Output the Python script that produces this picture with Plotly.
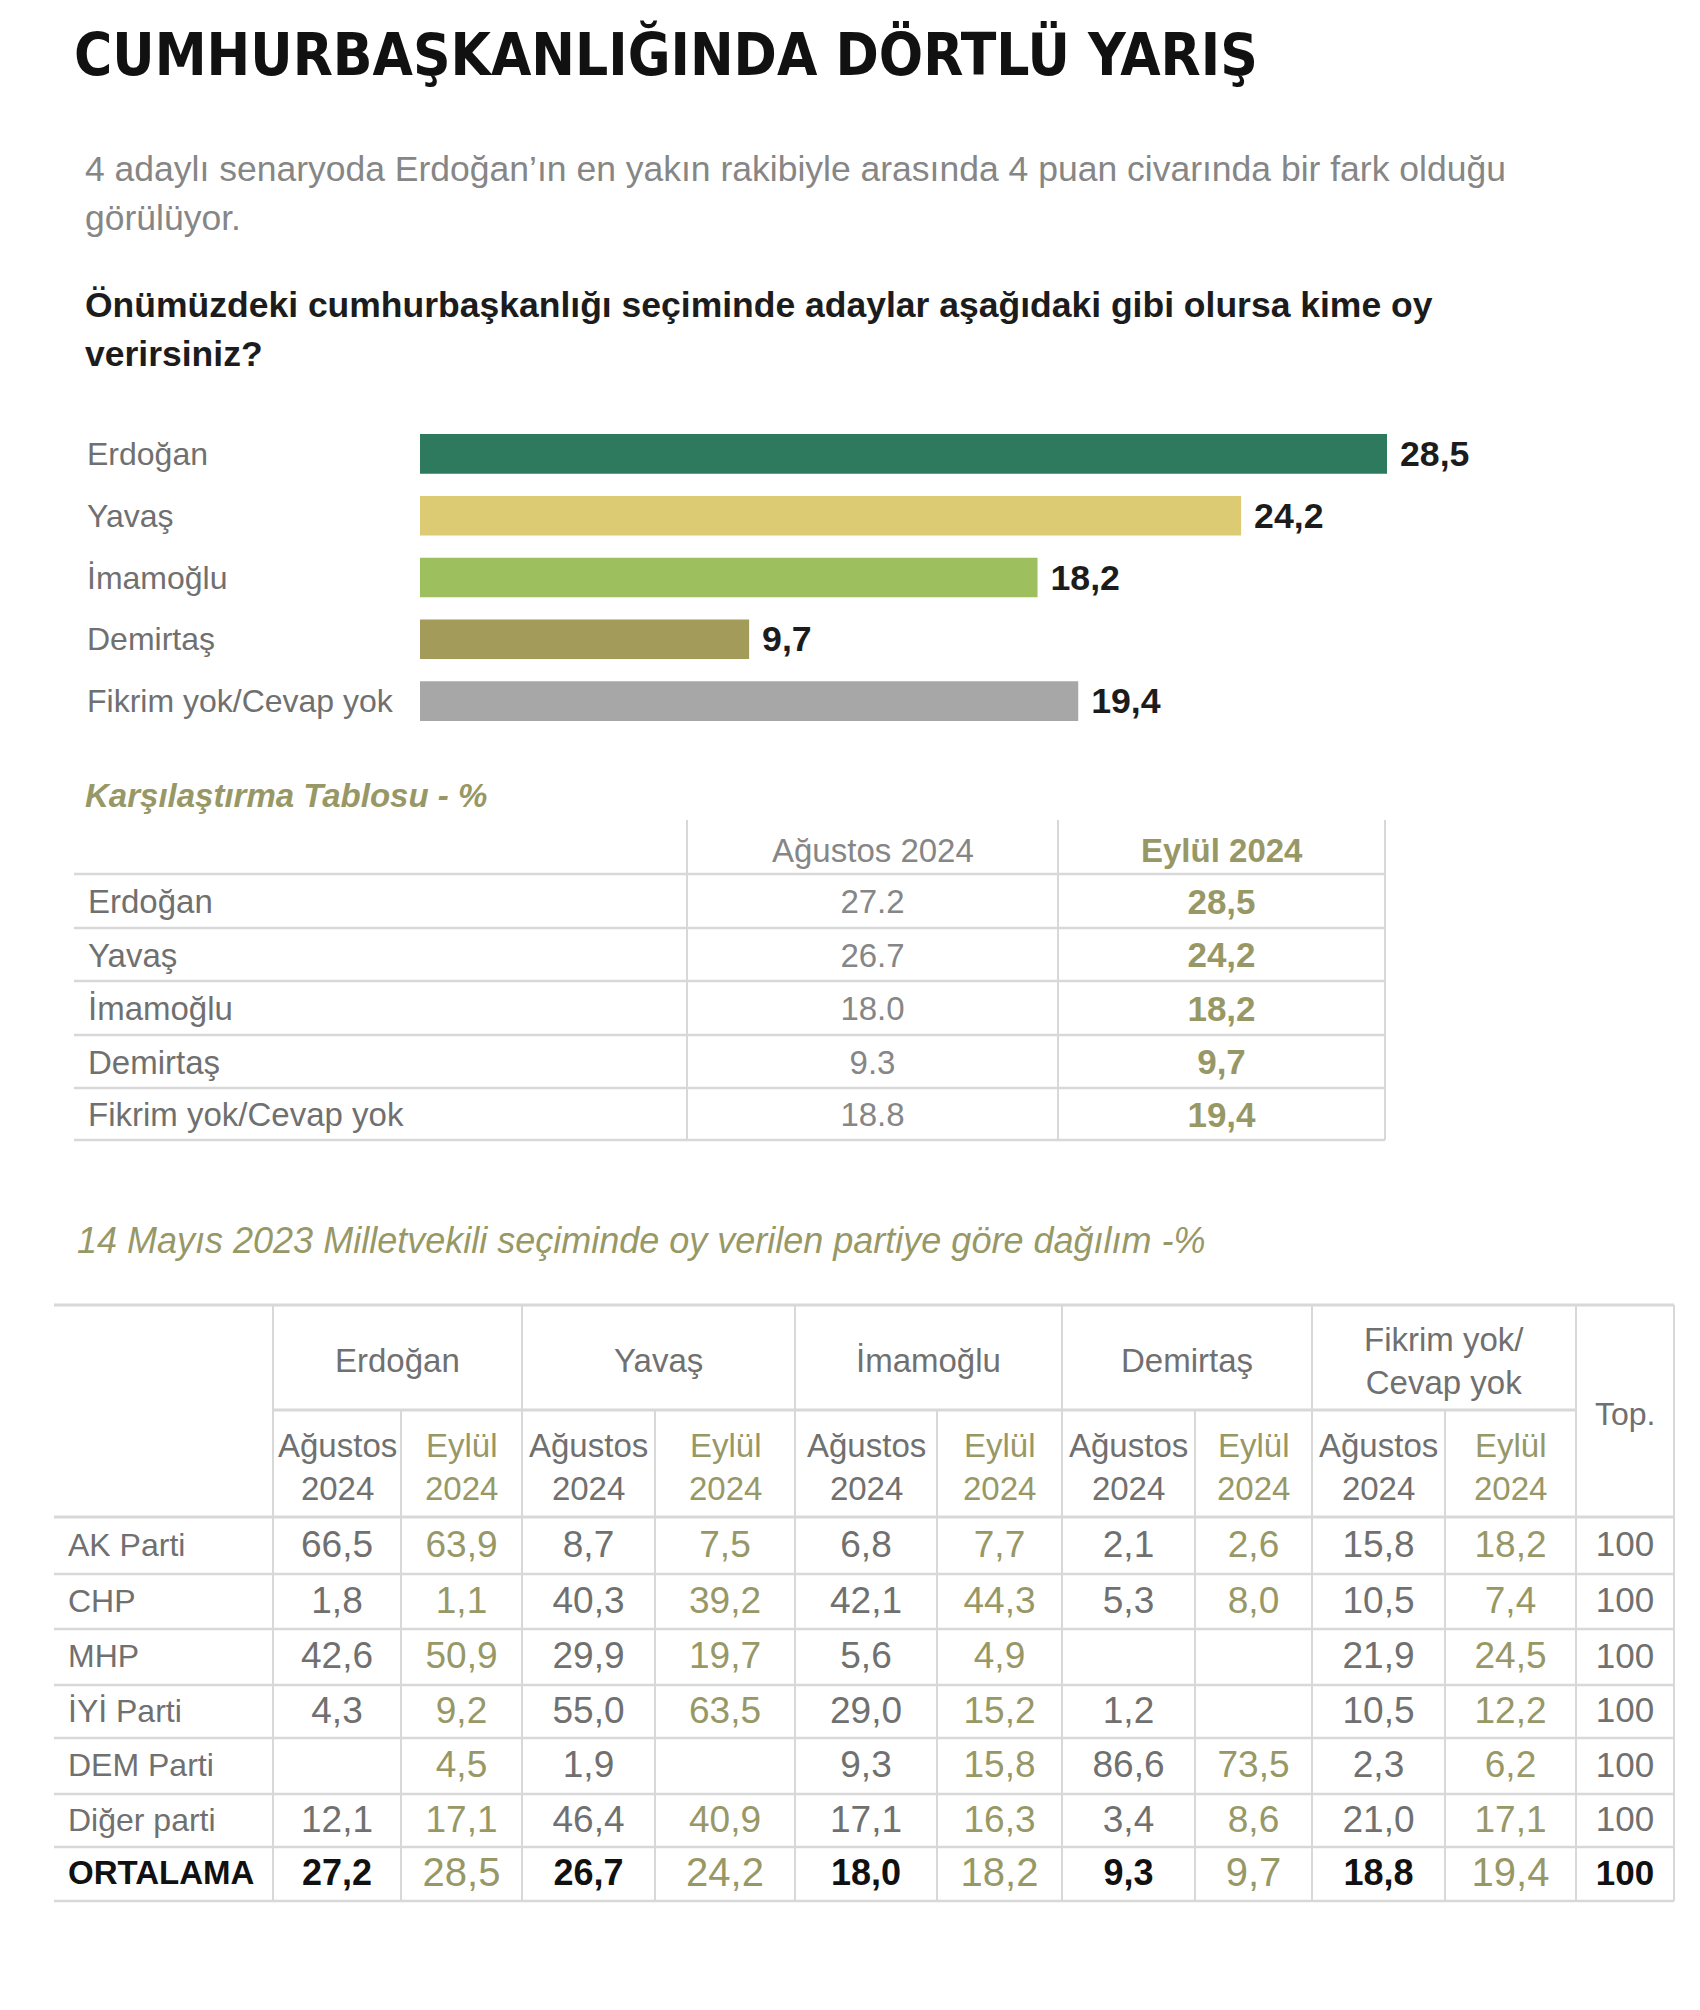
import plotly.graph_objects as go

W, H = 1700, 2010

# ---------------- data ----------------
title = "CUMHURBAŞKANLIĞINDA DÖRTLÜ YARIŞ"
subtitle_lines = ["4 adaylı senaryoda Erdoğan’ın en yakın rakibiyle arasında 4 puan civarında bir fark olduğu",
                  "görülüyor."]
question_lines = ["Önümüzdeki cumhurbaşkanlığı seçiminde adaylar aşağıdaki gibi olursa kime oy",
                  "verirsiniz?"]

candidates = ["Erdoğan", "Yavaş", "İmamoğlu", "Demirtaş", "Fikrim yok/Cevap yok"]
sep_2024 = [28.5, 24.2, 18.2, 9.7, 19.4]
aug_2024 = [27.2, 26.7, 18.0, 9.3, 18.8]
bar_colors = ["#2d7a5e", "#dccb72", "#9dbf5e", "#a29b5a", "#a7a7a7"]

comp_title = "Karşılaştırma Tablosu - %"
comp_headers = ["Ağustos 2024", "Eylül 2024"]

party_title = "14 Mayıs 2023 Milletvekili seçiminde oy verilen partiye göre dağılım -%"
parties = ["AK Parti", "CHP", "MHP", "İYİ Parti", "DEM Parti", "Diğer parti", "ORTALAMA"]
group_headers = ["Erdoğan", "Yavaş", "İmamoğlu", "Demirtaş", "Fikrim yok/<br>Cevap yok"]
sub_headers = ["Ağustos<br>2024", "Eylül<br>2024"]
total_header = "Top."
erdogan_aug = [66.5, 1.8, 42.6, 4.3, None, 12.1, 27.2]
erdogan_sep = [63.9, 1.1, 50.9, 9.2, 4.5, 17.1, 28.5]
yavas_aug = [8.7, 40.3, 29.9, 55.0, 1.9, 46.4, 26.7]
yavas_sep = [7.5, 39.2, 19.7, 63.5, None, 40.9, 24.2]
imamoglu_aug = [6.8, 42.1, 5.6, 29.0, 9.3, 17.1, 18.0]
imamoglu_sep = [7.7, 44.3, 4.9, 15.2, 15.8, 16.3, 18.2]
demirtas_aug = [2.1, 5.3, None, 1.2, 86.6, 3.4, 9.3]
demirtas_sep = [2.6, 8.0, None, None, 73.5, 8.6, 9.7]
fikrim_aug = [15.8, 10.5, 21.9, 10.5, 2.3, 21.0, 18.8]
fikrim_sep = [18.2, 7.4, 24.5, 12.2, 6.2, 17.1, 19.4]
totals = [100, 100, 100, 100, 100, 100, 100]

# ---------------- style ----------------
FONT = "Liberation Sans, Arial, sans-serif"
NARROW = "Liberation Sans Narrow, Arial Narrow, DejaVu Sans Condensed, sans-serif"
GRAY = "#707070"
LIGHTGRAY = "#868686"
OLIVE = "#979866"
LINE = "#d8d8d8"
DARK = "#1c1c1c"


def fmt(v, sep=","):
    return "" if v is None else f"{v:.1f}".replace(".", sep)


fig = go.Figure()

# ---------------- bar chart ----------------
BAR_X0 = 420
PX_PER_UNIT = 33.93
fig.add_trace(go.Bar(
    x=sep_2024, y=candidates, orientation="h",
    marker=dict(color=bar_colors, line_width=0), width=0.64,
    text=[f"<b> {fmt(v)}</b>" for v in sep_2024], textposition="outside",
    textfont=dict(family=FONT, size=37, color=DARK), cliponaxis=False,
    xaxis="x", yaxis="y", hoverinfo="skip", showlegend=False))

annotations = []
for c in candidates:
    annotations.append(dict(x=85 / W, xref="paper", y=c, yref="y", text=c, showarrow=False,
                            xanchor="left", yanchor="middle",
                            font=dict(family=FONT, size=32, color=GRAY)))


def ann(x, y, text, size, color, anchor="left", **kw):
    annotations.append(dict(x=x, y=y, xref="x2", yref="y2", text=text, showarrow=False,
                            xanchor=anchor, yanchor="middle",
                            font=dict(family=kw.pop("family", FONT), size=size, color=color), **kw))


# titles
ann(72, 54, f"<b>{title}</b>", 58, "#111111", family=NARROW)
ann(83, 169, subtitle_lines[0], 35.5, LIGHTGRAY)
ann(83, 218, subtitle_lines[1], 35.5, LIGHTGRAY)
ann(83, 305, f"<b>{question_lines[0]}</b>", 35.5, DARK)
ann(83, 354, f"<b>{question_lines[1]}</b>", 35.5, DARK)
ann(83, 795, f"<b><i>{comp_title}</i></b>", 33, OLIVE)
ann(75, 1240, f"<i>{party_title}</i>", 36, OLIVE)

shapes = []


def hline(x0, x1, y, w=2.5, color=LINE):
    shapes.append(dict(type="line", xref="x2", yref="y2", x0=x0, x1=x1, y0=y, y1=y,
                       line=dict(color=color, width=w)))


def vline(x, y0, y1, w=2, color=LINE):
    shapes.append(dict(type="line", xref="x2", yref="y2", x0=x, x1=x, y0=y0, y1=y1,
                       line=dict(color=color, width=w)))


# ---------------- comparison table ----------------
CMP_LEFT, CMP_RIGHT = 74, 1385
CMP_V = [687, 1058, 1385]
CMP_TOP = 820
CMP_H = [874, 928, 981, 1035, 1088, 1140]
for y in CMP_H:
    hline(CMP_LEFT, CMP_RIGHT, y)
for x in CMP_V:
    vline(x, CMP_TOP, CMP_H[-1])

cmp_row_y = [(CMP_H[i] + CMP_H[i + 1]) / 2 + 4 for i in range(len(candidates))]
aug_cx = (CMP_V[0] + CMP_V[1]) / 2
sep_cx = (CMP_V[1] + CMP_V[2]) / 2
ann(aug_cx, (CMP_TOP + CMP_H[0]) / 2 + 3, comp_headers[0], 33, LIGHTGRAY, anchor="center")
ann(sep_cx, (CMP_TOP + CMP_H[0]) / 2 + 3, f"<b>{comp_headers[1]}</b>", 33, OLIVE, anchor="center")

fig.add_trace(go.Scatter(x=[88] * len(candidates), y=cmp_row_y, mode="text", text=candidates,
                         textposition="middle right", textfont=dict(family=FONT, size=33, color=GRAY),
                         xaxis="x2", yaxis="y2", hoverinfo="skip", showlegend=False))
fig.add_trace(go.Scatter(x=[aug_cx] * len(aug_2024), y=cmp_row_y, mode="text",
                         text=[fmt(v, ".") for v in aug_2024],
                         textposition="middle center", textfont=dict(family=FONT, size=33, color=LIGHTGRAY),
                         xaxis="x2", yaxis="y2", hoverinfo="skip", showlegend=False))
fig.add_trace(go.Scatter(x=[sep_cx] * len(sep_2024), y=cmp_row_y, mode="text",
                         text=[f"<b>{fmt(v)}</b>" for v in sep_2024],
                         textposition="middle center", textfont=dict(family=FONT, size=35, color=OLIVE),
                         xaxis="x2", yaxis="y2", hoverinfo="skip", showlegend=False))

# ---------------- party table ----------------
T_LEFT, T_RIGHT = 54, 1674
MAIN_V = [273, 522, 795, 1062, 1312, 1576, 1674]
SUB_V = [401, 655, 937, 1195, 1445]
T_TOP, T_MID, T_HEAD = 1305, 1410, 1517
ROW_H = [1517, 1574, 1629, 1685, 1738, 1794, 1847, 1901]

hline(T_LEFT, T_RIGHT, T_TOP, w=3)
hline(MAIN_V[0], MAIN_V[-2], T_MID, w=3)
for y in ROW_H:
    hline(T_LEFT, T_RIGHT, y, w=3 if y in (T_HEAD,) else 2.5)
for x in MAIN_V:
    vline(x, T_TOP, ROW_H[-1])
for x in SUB_V:
    vline(x, T_MID, ROW_H[-1])

row_y = [(ROW_H[i] + ROW_H[i + 1]) / 2 + 2 for i in range(len(parties))]

for i, g in enumerate(group_headers):
    ann((MAIN_V[i] + MAIN_V[i + 1]) / 2, (T_TOP + T_MID) / 2 + 3, g, 33, GRAY, anchor="center")
    ann((MAIN_V[i] + SUB_V[i]) / 2, (T_MID + T_HEAD) / 2 + 3, sub_headers[0], 33, GRAY, anchor="center")
    ann((SUB_V[i] + MAIN_V[i + 1]) / 2, (T_MID + T_HEAD) / 2 + 3, sub_headers[1], 33, OLIVE, anchor="center")
ann((MAIN_V[-2] + MAIN_V[-1]) / 2, (T_TOP + T_HEAD) / 2 + 3, total_header, 32, GRAY, anchor="center")

# row labels
label_text = [p if p != "ORTALAMA" else f"<b>{p}</b>" for p in parties]
label_col = [GRAY] * (len(parties) - 1) + ["#111111"]
fig.add_trace(go.Scatter(x=[68] * len(parties), y=row_y, mode="text", text=label_text,
                         textposition="middle right",
                         textfont=dict(family=FONT, size=[32] * (len(parties) - 1) + [33], color=label_col),
                         xaxis="x2", yaxis="y2", hoverinfo="skip", showlegend=False))

groups = [(erdogan_aug, erdogan_sep), (yavas_aug, yavas_sep), (imamoglu_aug, imamoglu_sep),
          (demirtas_aug, demirtas_sep), (fikrim_aug, fikrim_sep)]
for i, (aug, sep) in enumerate(groups):
    ax = (MAIN_V[i] + SUB_V[i]) / 2
    sx = (SUB_V[i] + MAIN_V[i + 1]) / 2
    aug_txt = [fmt(v) for v in aug[:-1]] + [f"<b>{fmt(aug[-1])}</b>"]
    aug_col = [GRAY] * (len(aug) - 1) + ["#111111"]
    fig.add_trace(go.Scatter(x=[ax] * len(aug), y=row_y, mode="text", text=aug_txt,
                             textposition="middle center",
                             textfont=dict(family=FONT, size=[37] * (len(aug) - 1) + [36], color=aug_col),
                             xaxis="x2", yaxis="y2", hoverinfo="skip", showlegend=False))
    fig.add_trace(go.Scatter(x=[sx] * len(sep), y=row_y, mode="text", text=[fmt(v) for v in sep],
                             textposition="middle center",
                             textfont=dict(family=FONT, size=[37] * (len(sep) - 1) + [40], color=OLIVE),
                             xaxis="x2", yaxis="y2", hoverinfo="skip", showlegend=False))

tot_txt = [str(v) for v in totals[:-1]] + [f"<b>{totals[-1]}</b>"]
tot_col = [GRAY] * (len(totals) - 1) + ["#111111"]
fig.add_trace(go.Scatter(x=[(MAIN_V[-2] + MAIN_V[-1]) / 2] * len(totals), y=row_y, mode="text",
                         text=tot_txt, textposition="middle center",
                         textfont=dict(family=FONT, size=35, color=tot_col),
                         xaxis="x2", yaxis="y2", hoverinfo="skip", showlegend=False))

fig.update_layout(
    width=W, height=H, margin=dict(l=0, r=0, t=0, b=0),
    paper_bgcolor="white", plot_bgcolor="rgba(0,0,0,0)",
    xaxis=dict(domain=[BAR_X0 / W, 1], range=[0, (W - BAR_X0) / PX_PER_UNIT], visible=False,
               fixedrange=True),
    yaxis=dict(domain=[1 - 732 / H, 1 - 423 / H], type="category", autorange="reversed",
               visible=False, fixedrange=True),
    xaxis2=dict(domain=[0, 1], range=[0, W], visible=False, anchor="y2", fixedrange=True),
    yaxis2=dict(domain=[0, 1], range=[H, 0], visible=False, anchor="x2", fixedrange=True),
    annotations=annotations, shapes=shapes, bargap=0.3,
)

fig.write_html("out.html", config={"displayModeBar": False},
               post_script="document.body.style.margin='0';document.body.style.overflow='hidden';")
